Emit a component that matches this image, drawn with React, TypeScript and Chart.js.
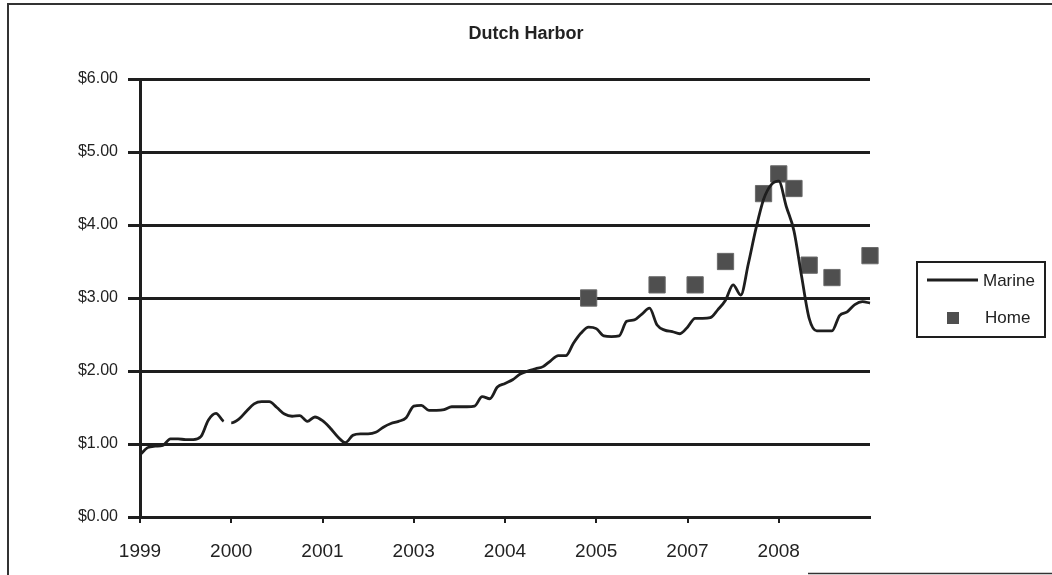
import React, { useEffect, useRef } from "react";
import { Chart, registerables } from "chart.js";

Chart.register(...registerables);

// ---- data ----
const tickLabels = ["1999", "2000", "2001", "2003", "2004", "2005", "2007", "2008"];
const periodsPerLabel = 12;

const marineValues = [
  0.85, 0.95, 0.97, 0.98, 1.07, 1.07, 1.06, 1.06, 1.10, 1.33, 1.42, 1.31,
  1.29, 1.34, 1.45, 1.55, 1.58, 1.58, 1.50, 1.41, 1.38, 1.39, 1.31, 1.37,
  1.32, 1.22, 1.10, 1.02, 1.12, 1.14, 1.14, 1.16, 1.23, 1.28, 1.31, 1.36,
  1.52, 1.53, 1.46, 1.46, 1.47, 1.51, 1.51, 1.51, 1.52, 1.65, 1.62, 1.78,
  1.83, 1.88, 1.96, 2.00, 2.03, 2.06, 2.14, 2.21, 2.21, 2.38, 2.52, 2.60,
  2.58, 2.48, 2.47, 2.48, 2.68, 2.70, 2.78, 2.86, 2.63, 2.56, 2.54, 2.51,
  2.60, 2.72, 2.72, 2.73, 2.84, 2.97, 3.18, 3.04, 3.47, 3.95, 4.35, 4.55,
  4.60, 4.25, 3.92, 3.30, 2.72, 2.55, 2.55, 2.55, 2.76, 2.81, 2.91, 2.95, 2.93,
];
// the Marine line has no segment right after these points
const marineBreakAfter = [11];

const homePeriods = [59, 68, 73, 77, 82, 84, 86, 88, 91, 96];
const homeValues = [3.0, 3.18, 3.18, 3.5, 4.43, 4.7, 4.5, 3.45, 3.28, 3.58];

const yMin = 0;
const yMax = 6;
const yStep = 1;

// ---- derived tables ----
const categories = marineValues.map((_, i) =>
  i % periodsPerLabel === 0 ? tickLabels[i / periodsPerLabel] ?? "" : ""
);
const homeData: (number | null)[] = marineValues.map(() => null);
homePeriods.forEach((p, k) => {
  homeData[p] = homeValues[k];
});

const FONT = "'Liberation Sans', Arial, sans-serif";
const INK = "#1e1e1e";
const TEXT = "#222222";
const SQUARE = "#4f4f4f";

const decorPlugin = {
  id: "decor",
  afterDraw(chart: any) {
    const ctx = chart.ctx as CanvasRenderingContext2D;
    ctx.save();
    // outer frame pieces
    ctx.strokeStyle = "#333";
    ctx.lineWidth = 2;
    ctx.beginPath();
    ctx.moveTo(8, 575);
    ctx.lineTo(8, 4);
    ctx.lineTo(1052, 4);
    ctx.stroke();
    ctx.lineWidth = 1.5;
    ctx.beginPath();
    ctx.moveTo(808, 573.5);
    ctx.lineTo(1052, 573.5);
    ctx.stroke();

    // title
    ctx.fillStyle = TEXT;
    ctx.font = `bold 18px ${FONT}`;
    ctx.textAlign = "center";
    ctx.textBaseline = "middle";
    ctx.fillText(chart.options.plugins.decor.title, 526, 34);

    // legend
    const lx = 917;
    const ly = 262;
    const lw = 128;
    const lh = 75;
    ctx.strokeStyle = INK;
    ctx.lineWidth = 2;
    ctx.strokeRect(lx, ly, lw, lh);
    const ds = chart.data.datasets;
    ctx.strokeStyle = INK;
    ctx.lineWidth = 3;
    ctx.beginPath();
    ctx.moveTo(927, 280);
    ctx.lineTo(978, 280);
    ctx.stroke();
    ctx.fillStyle = SQUARE;
    ctx.fillRect(947, 312, 12, 12);
    ctx.fillStyle = TEXT;
    ctx.font = `17px ${FONT}`;
    ctx.textAlign = "left";
    ctx.textBaseline = "middle";
    ctx.fillText(ds[0].label, 983, 281);
    ctx.fillText(ds[1].label, 985, 318);
    ctx.restore();
  },
};

export default function App() {
  const ref = useRef<HTMLCanvasElement | null>(null);

  useEffect(() => {
    if (!ref.current) return;
    const chart = new Chart(ref.current, {
      type: "line",
      data: {
        labels: categories,
        datasets: [
          {
            label: "Marine",
            data: marineValues,
            borderColor: INK,
            borderWidth: 2.8,
            pointRadius: 0,
            cubicInterpolationMode: "monotone",
            fill: false,
            segment: {
              borderColor: (c: any) =>
                marineBreakAfter.includes(c.p0DataIndex) ? "rgba(0,0,0,0)" : INK,
            },
          },
          {
            label: "Home",
            data: homeData,
            showLine: false,
            pointStyle: "rect",
            pointRadius: 11.5,
            pointBackgroundColor: SQUARE,
            pointBorderColor: "#6a6a6a",
            pointBorderWidth: 1,
          },
        ],
      },
      options: {
        responsive: false,
        animation: false,
        devicePixelRatio: 1,
        events: [],
        layout: { padding: { left: 0, top: 79, right: 182, bottom: 0 } },
        plugins: {
          legend: { display: false },
          tooltip: { enabled: false },
          title: { display: false },
          decor: { title: "Dutch Harbor" },
        } as any,
        scales: {
          x: {
            type: "category",
            offset: false,
            afterFit: (s: any) => {
              s.height = 58;
            },
            ticks: {
              autoSkip: false,
              maxRotation: 0,
              minRotation: 0,
              padding: 17,
              color: TEXT,
              font: { family: FONT, size: 19 },
            },
            grid: {
              drawOnChartArea: false,
              drawTicks: true,
              tickLength: 6,
              lineWidth: 2,
              color: (c: any) =>
                categories[c.index] ? INK : "rgba(0,0,0,0)",
            },
            border: { display: true, color: INK, width: 3 },
          },
          y: {
            min: yMin,
            max: yMax,
            afterFit: (s: any) => {
              s.width = 140;
            },
            ticks: {
              stepSize: yStep,
              padding: 10,
              color: TEXT,
              font: { family: FONT, size: 16 },
              callback: (v: any) => "$" + Number(v).toFixed(2),
            },
            grid: { color: INK, lineWidth: 3, tickLength: 12, drawTicks: true },
            border: { display: true, color: INK, width: 3 },
          },
        },
      },
      plugins: [decorPlugin],
    });
    return () => chart.destroy();
  }, []);

  return (
    <div style={{ position: "absolute", left: 0, top: 0, width: 1052, height: 575, background: "#fff" }}>
      <canvas ref={ref} width={1052} height={575} style={{ display: "block" }} />
    </div>
  );
}
